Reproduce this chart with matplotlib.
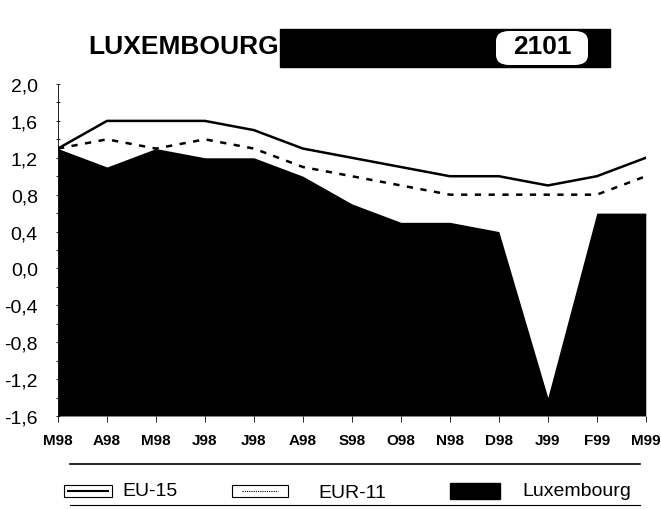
import numpy as np
import matplotlib.pyplot as plt
from matplotlib.patches import Rectangle, FancyBboxPatch
from matplotlib.lines import Line2D

months = ['M98', 'A98', 'M98', 'J98', 'J98', 'A98', 'S98', 'O98', 'N98', 'D98', 'J99', 'F99', 'M99']
eu15 = [1.3, 1.6, 1.6, 1.6, 1.5, 1.3, 1.2, 1.1, 1.0, 1.0, 0.9, 1.0, 1.2]
eur11 = [1.3, 1.4, 1.3, 1.4, 1.3, 1.1, 1.0, 0.9, 0.8, 0.8, 0.8, 0.8, 1.0]
lux = [1.3, 1.1, 1.3, 1.2, 1.2, 1.0, 0.7, 0.5, 0.5, 0.4, -1.4, 0.6, 0.6]
yticks = [-1.6, -1.2, -0.8, -0.4, 0.0, 0.4, 0.8, 1.2, 1.6, 2.0]

plt.rcParams['font.family'] = ['Liberation Sans', 'DejaVu Sans']
narrow = ['Liberation Sans Narrow', 'Liberation Sans']

fig = plt.figure(figsize=(6.61, 5.10), dpi=100)
ax = fig.add_axes([0.0877, 0.1824, 0.8893, 0.6509])

x = np.arange(len(months))
ax.fill_between(x, lux, -1.6, color='black', lw=0)
ax.plot(x, eu15, color='black', lw=1.8)
ax.plot(x, eur11, color='black', lw=1.8, ls=(0, (2.5, 3)))

ax.set_xlim(0, len(months) - 1)
ax.set_ylim(-1.6, 2.0)
ax.set_yticks(yticks)
ax.set_yticklabels([('%.1f' % v).replace('.', ',') for v in yticks], fontsize=14)
ax.set_yticks(np.arange(-1.6, 2.01, 0.2), minor=True)
ax.tick_params(axis='y', which='both', length=3, direction='inout', width=0.6, pad=13)
ax.set_xticks(x)
ax.set_xticklabels(months, fontsize=11, fontweight='bold', family=narrow)
ax.tick_params(axis='x', length=4, width=0.6, pad=8)
for s in ['top', 'right', 'bottom']:
    ax.spines[s].set_visible(False)
ax.spines['left'].set_linewidth(0.6)

# header band
fig.patches.append(Rectangle((280 / 661, 1 - 68 / 510), 330 / 661, 38 / 510,
                             transform=fig.transFigure, color='black', zorder=1))
fig.patches.append(FancyBboxPatch((496 / 661, 1 - 66 / 510), 92 / 661, 34 / 510,
                                  boxstyle='round,pad=0,rounding_size=0.02',
                                  transform=fig.transFigure, fc='white', ec='none', zorder=2))
fig.text(88 / 661, 1 - 47 / 510, 'LUXEMBOURG', fontsize=19, fontweight='bold',
         family=narrow, va='center', ha='left', zorder=3)
fig.text(542 / 661, 1 - 47 / 510, '2101', fontsize=19, fontweight='bold',
         va='center', ha='center', zorder=3)

# legend
fig.add_artist(Line2D([70 / 661, 640 / 661], [1 - 465 / 510] * 2, color='black', lw=1.2))
fig.add_artist(Line2D([70 / 661, 640 / 661], [1 - 506 / 510] * 2, color='black', lw=0.8))
ly = 1 - 492 / 510
fig.patches.append(Rectangle((64 / 661, ly - 6 / 510), 48 / 661, 12 / 510,
                             transform=fig.transFigure, fc='white', ec='black', lw=0.8))
fig.add_artist(Line2D([68 / 661, 108 / 661], [ly, ly], color='black', lw=1.5))
fig.text(122 / 661, ly, 'EU-15', fontsize=14, va='center')
fig.patches.append(Rectangle((232 / 661, ly - 6 / 510), 56 / 661, 12 / 510,
                             transform=fig.transFigure, fc='white', ec='black', lw=0.8))
fig.add_artist(Line2D([242 / 661, 278 / 661], [ly, ly], color='black', lw=0.8, ls=(0, (1, 1))))
fig.text(318 / 661, ly - 2 / 510, 'EUR-11', fontsize=14, va='center')
fig.patches.append(Rectangle((450 / 661, ly - 8 / 510), 50 / 661, 16 / 510,
                             transform=fig.transFigure, fc='black', ec='black'))
fig.text(522 / 661, ly, 'Luxembourg', fontsize=14, va='center')

fig.savefig('out.png', dpi=100)
